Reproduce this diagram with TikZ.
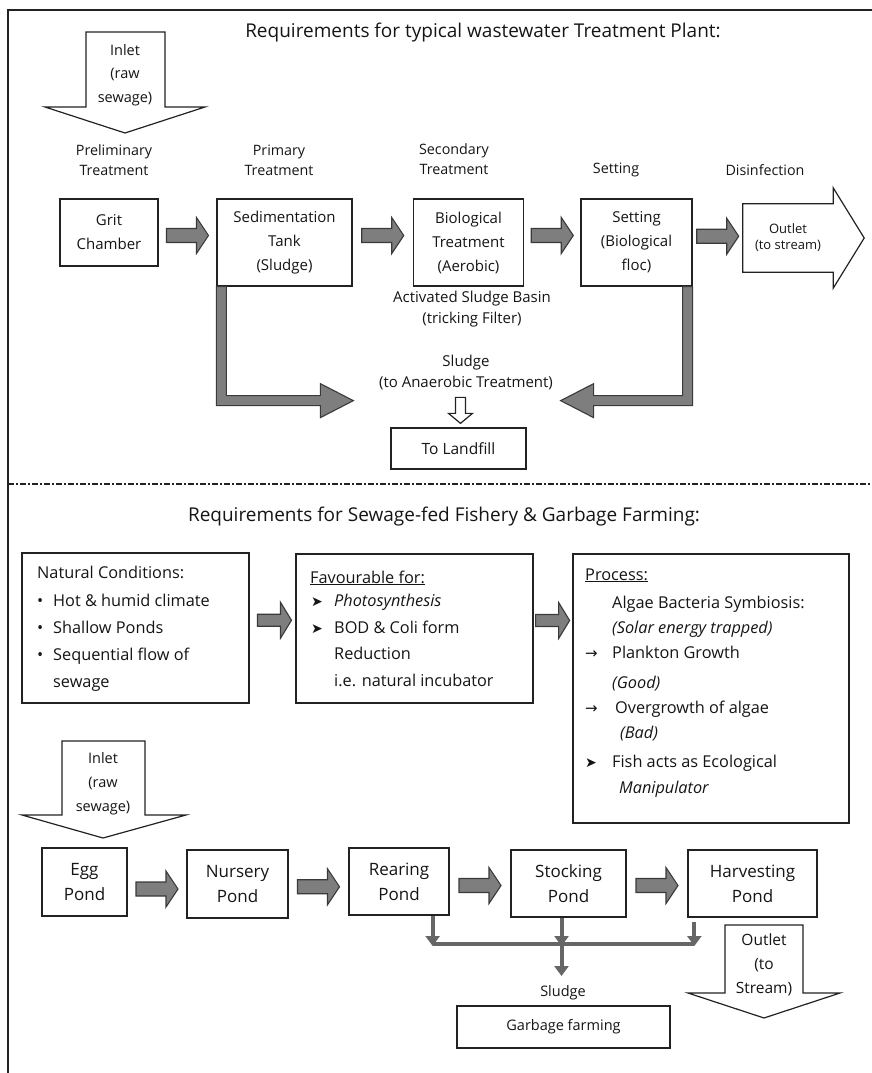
\documentclass[tikz,border=0pt]{standalone}
\usepackage{fontspec}
\setmainfont{Open Sans}
\newfontfamily\symfont{DejaVu Sans}
\usetikzlibrary{calc,arrows.meta}
\newcommand{\fsz}[2]{\fontsize{#1}{#2}\selectfont}
\definecolor{inkc}{HTML}{222222}
\definecolor{txtc}{HTML}{151515}
\definecolor{arrfill}{HTML}{7E7E7E}
\definecolor{arredge}{HTML}{3A3A3A}
\definecolor{colline}{HTML}{666666}

\tikzset{
  ink/.style={draw=inkc, line width=1.3pt},
  box/.style={ink, fill=white, rectangle, inner sep=0pt, align=center, text=txtc},
  lbl/.style={inner sep=0pt, align=center, text=txtc},
  ln/.style={inner sep=0pt, anchor=base west, text=txtc, font=\fsz{16.3}{19}},
  blk/.style={draw=inkc, line width=1.2pt, fill=white, line join=miter},
  garr/.style={draw=arredge, line width=1.1pt, fill=arrfill, line join=miter},
  gline/.style={draw=colline, line width=4pt},
  gtip/.tip={Triangle[width=14pt,length=10pt]},
  % grey block arrows between the stages
  garrow/.pic={\draw[garr] (-21,-7) -- (9,-7) -- (9,-18) -- (21,0) -- (9,18) -- (9,7) -- (-21,7) -- cycle;},
  garrowsmall/.pic={\draw[garr] (-17,-6) -- (6,-6) -- (6,-18) -- (17,0) -- (6,18) -- (6,6) -- (-17,6) -- cycle;},
  % small hollow arrow pointing down
  downhollow/.pic={\draw[blk] (-5,-13) -- (5,-13) -- (5,3) -- (12,3) -- (0,13) -- (-12,3) -- (-5,3) -- cycle;},
}
\newcommand{\pointer}{\symfont\fsz{14}{14}➤}
\newcommand{\goesto}{\symfont\fsz{15}{15}→}

\begin{document}
\begin{tikzpicture}[x=1pt,y=-1pt]
\useasboundingbox (0,0) rectangle (872,1073);

% frame and separator
\draw[inkc, line width=1.8pt] (8,1073) -- (8,10) -- (872,10);
\draw[inkc, line width=2pt, dash pattern=on 6pt off 2pt on 2pt off 2pt] (8,484) -- (872,484);

% ---------------- wastewater treatment plant ----------------
\node[lbl, font=\fsz{19}{22}] (t1) at (483,33) {Requirements for typical wastewater Treatment Plant:};

% inlet
\draw[blk] (86,32) -- (165,32) -- (165,107) -- (205,107) -- (125,133) -- (45,107) -- (86,107) -- cycle;
\node[lbl, font=\fsz{14.5}{23.5}] (inlet1) at (125,75) {Inlet\\(raw\\sewage)};

% stage headings
\node[lbl, font=\fsz{14.3}{20}] (st1) at (114,160) {Preliminary\\Treatment};
\node[lbl, font=\fsz{14.3}{20}] (st2) at (279,160) {Primary\\Treatment};
\node[lbl, font=\fsz{14.3}{20}] (st3) at (454,159) {Secondary\\Treatment};
\node[lbl, font=\fsz{14.3}{20}] (st4) at (616,170) {Setting};
\node[lbl, font=\fsz{14.3}{20}] (st5) at (765,170) {Disinfection};

% process boxes
\node[box, minimum width=98pt, minimum height=67pt, font=\fsz{15}{24}] (grit) at (109,232.5) {Grit\\Chamber};
\node[box, minimum width=135pt, minimum height=87pt, font=\fsz{15}{24}] (sed) at (284.5,242.5) {Sedimentation\\Tank\\(Sludge)};
\node[box, minimum width=110pt, minimum height=87pt, font=\fsz{15}{24}] (bio) at (468.5,242.5) {Biological\\Treatment\\(Aerobic)};
\node[box, minimum width=111pt, minimum height=87pt, font=\fsz{15}{24}] (settle) at (636.5,242.5) {Setting\\(Biological\\floc)};

% outlet
\node[lbl, minimum width=90pt, minimum height=68pt, font=\fsz{13}{16}] (outlet) at (788,238) {Outlet\\(to stream)};
\draw[blk, fill=none] (outlet.north west) -- (outlet.north east) -- ++(0,-16) -- ($(outlet.east)+(31,0)$)
  -- ($(outlet.south east)+(0,16)$) -- (outlet.south east) -- (outlet.south west) -- cycle;

% flow arrows
\pic at ($(grit.east)!0.5!(sed.west)+(0,-2)$) {garrow};
\pic at ($(sed.east)!0.5!(bio.west)+(0,-7)$) {garrow};
\pic at ($(bio.east)!0.5!(settle.west)+(0,-7)$) {garrow};
\pic at ($(settle.east)!0.5!(outlet.west)+(0,-4)$) {garrow};

\node[lbl, font=\fsz{15}{21}] (asb) at (472,309) {Activated Sludge Basin\\(tricking Filter)};
\node[lbl, font=\fsz{15}{21}] (sl1) at (466,372.5) {Sludge\\(to Anaerobic Treatment)};

% sludge return arrows
\draw[garr] (sed.south west) -- ++(0,119) -- ++(104,0) -- ++(0,12) -- ++(33,-17) -- ++(-33,-17)
  -- ++(0,12) -- ++(-94,0) -- ++(0,-109) -- cycle;
\draw[garr] (settle.south east) -- ++(0,119) -- ++(-99,0) -- ++(0,12) -- ++(-33,-17) -- ++(33,-17)
  -- ++(0,12) -- ++(89,0) -- ++(0,-109) -- cycle;

\node[box, minimum width=135pt, minimum height=41pt, font=\fsz{15.5}{16}] (landfill) at (458.5,448.5) {To Landfill};
\pic at ($(landfill.north)+(2,-17)$) {downhollow};

% ---------------- sewage-fed fishery ----------------
\node[lbl, font=\fsz{19}{22}] (t2) at (444,517) {Requirements for Sewage-fed Fishery \& Garbage Farming:};

\node[box, minimum width=227pt, minimum height=150pt] (nat) at (135.5,628) {};
\node[ln] (n1) at (37,578) {Natural Conditions:};
\node[ln] (n2) at (37,606) {\makebox[16pt][l]{•}Hot \& humid climate};
\node[ln] (n3) at (37,633) {\makebox[16pt][l]{•}Shallow Ponds};
\node[ln] (n4) at (37,660) {\makebox[16pt][l]{•}Sequential flow of};
\node[ln] (n5) at (53,687) {sewage};

\node[box, minimum width=237pt, minimum height=149pt] (fav) at (414.5,628.5) {};
\node[ln] (f1) at (310,583) {\underline{Favourable for:}};
\node[ln] (f2) at (311,606) {\makebox[23pt][l]{\pointer}\textit{Photosynthesis}};
\node[ln] (f3) at (311,633) {\makebox[23pt][l]{\pointer}BOD \& Coli form};
\node[ln] (f4) at (334,659) {Reduction};
\node[ln] (f5) at (334,686) {i.e. natural incubator};

\node[box, minimum width=276pt, minimum height=269pt] (proc) at (711,688.5) {};
\node[ln] (p1) at (585,580) {\underline{Process:}};
\node[ln] (p2) at (612,608) {Algae Bacteria Symbiosis:};
\node[ln] (p3) at (612,633) {\textit{(Solar energy trapped)}};
\node[ln] (p4) at (585,658) {\makebox[27pt][l]{\goesto}Plankton Growth};
\node[ln] (p5) at (612,688) {\textit{(Good)}};
\node[ln] (p6) at (585,713) {\makebox[30pt][l]{\goesto}Overgrowth of algae};
\node[ln] (p7) at (620,738) {\textit{(Bad)}};
\node[ln] (p8) at (585,767) {\makebox[27pt][l]{\pointer}Fish acts as Ecological};
\node[ln] (p9) at (619,793) {\textit{Manipulator}};

\pic at ($(nat.east)!0.5!(fav.west)+(2,-8)$) {garrowsmall};
\pic at ($(fav.east)+(19,-8)$) {garrowsmall};

% inlet
\draw[blk] (62,741) -- (145,741) -- (145,815) -- (186,815) -- (103,838) -- (22,815) -- (62,815) -- cycle;
\node[lbl, font=\fsz{14.5}{24}] (inlet2) at (103,784) {Inlet\\(raw\\sewage)};

% ponds
\node[box, minimum width=85pt, minimum height=68pt, font=\fsz{17}{25}] (egg) at (84.5,882) {Egg\\Pond};
\node[box, minimum width=101pt, minimum height=68pt, font=\fsz{17}{25}] (nurs) at (237.5,884) {Nursery\\Pond};
\node[box, minimum width=100pt, minimum height=67pt, font=\fsz{17}{25}] (rear) at (399,881.5) {Rearing\\Pond};
\node[box, minimum width=115pt, minimum height=67pt, font=\fsz{17}{25}] (stock) at (568.5,883.5) {Stocking\\Pond};
\node[box, minimum width=129pt, minimum height=67pt, font=\fsz{17}{25}] (harv) at (752.5,883.5) {Harvesting\\Pond};

\pic at ($(egg.east)!0.5!(nurs.west)+(0,6)$) {garrow};
\pic at ($(nurs.east)!0.5!(rear.west)+(0,4)$) {garrow};
\pic at ($(rear.east)!0.5!(stock.west)+(0,3)$) {garrow};
\pic at ($(stock.east)!0.5!(harv.west)+(0,2)$) {garrow};

% outlet
\draw[blk] (725,925) -- (803,925) -- (803,993) -- (840,993) -- (764,1018) -- (688,993) -- (725,993) -- cycle;
\node[lbl, font=\fsz{15.5}{24}] (outlet2) at (764,965) {Outlet\\(to\\Stream)};

% sludge collector
\coordinate (ra) at ($(rear.south east)+(-17,0)$);
\coordinate (sa) at ($(stock.south)+(-7,0)$);
\coordinate (ha) at ($(harv.south west)+(7,4)$);
\draw[gline, -gtip] (ra) -- (ra |- 0,946);
\draw[gline, -gtip] (sa) -- (sa |- 0,946);
\draw[gline, -gtip] (ha) -- (ha |- 0,946);
\draw[gline] (ra |- 0,944) -- (ha |- 0,944);
\node[lbl, font=\fsz{14.5}{16}] (sl2) at (563,993) {Sludge};
\draw[gline, -gtip] (sa |- 0,944) -- (sa |- 0,976);

\node[box, minimum width=213pt, minimum height=42pt, font=\fsz{14.5}{16}] (garb) at (563.5,1027) {Garbage farming};
\end{tikzpicture}
\end{document}
